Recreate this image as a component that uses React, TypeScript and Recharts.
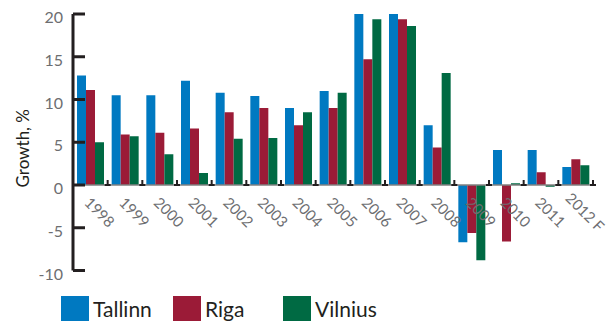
import React from "react";
import {
  ComposedChart,
  Bar,
  Scatter,
  XAxis,
  YAxis,
  ReferenceLine,
  Legend,
} from "recharts";

const years = [
  "1998", "1999", "2000", "2001", "2002", "2003", "2004", "2005",
  "2006", "2007", "2008", "2009", "2010", "2011", "2012 F",
];
const tallinn = [12.8, 10.5, 10.5, 12.2, 10.8, 10.4, 9.0, 11.0, 20.1, 20.1, 7.0, -6.7, 4.1, 4.1, 2.1];
const riga = [11.1, 5.9, 6.1, 6.6, 8.5, 9.0, 7.0, 9.0, 14.7, 19.4, 4.4, -5.6, -6.6, 1.5, 3.0];
const vilnius = [5.0, 5.7, 3.6, 1.4, 5.4, 5.5, 8.5, 10.8, 19.4, 18.6, 13.1, -8.8, 0.2, -0.2, 2.3];
const yTicks = [-10, -5, 0, 5, 10, 15, 20];

const data = years.map((year, i) => ({
  year,
  tallinn: tallinn[i],
  riga: riga[i],
  vilnius: vilnius[i],
  zero: 0,
}));

const BLUE = "#0079c1";
const RED = "#9b1b37";
const GREEN = "#006a43";
const DARK = "#231f20";
const GREY = "#6d6e71";
const FONT = "Lato, 'Noto Sans', sans-serif";
const BAND = 520 / years.length;

const YTick = (props: any) => {
  const { x, y, payload } = props;
  return (
    <g>
      <line x1={x + 10} x2={x + 22} y1={y} y2={y} stroke={DARK} strokeWidth={3} />
      <text x={x} y={y + 2.5} textAnchor="end" dominantBaseline="central" fill={GREY} fontSize={16} fontFamily={FONT}>
        {payload.value}
      </text>
    </g>
  );
};

// draws the year label and the small boundary tick on the zero line
const ZeroMark = (props: any) => {
  const { cx, cy, payload } = props;
  const bx = cx + BAND / 2;
  const lx = cx + 5.5;
  const ly = cy + 31;
  return (
    <g>
      <line x1={bx} x2={bx} y1={cy - 5} y2={cy} stroke={DARK} strokeWidth={2} />
      <line x1={bx - 3} x2={bx + 3} y1={cy} y2={cy} stroke={DARK} strokeWidth={2} />
      <text
        x={lx}
        y={ly}
        transform={`rotate(45, ${lx}, ${ly})`}
        textAnchor="middle"
        fill={GREY}
        fontSize={15}
        fontFamily={FONT}
      >
        {payload.year}
      </text>
    </g>
  );
};

const YLabel = (props: any) => {
  const { viewBox } = props;
  const x = viewBox.x + 14;
  const y = viewBox.y + viewBox.height / 2 + 6;
  return (
    <text x={x} y={y} transform={`rotate(-90, ${x}, ${y})`} textAnchor="middle" dominantBaseline="central" fill={DARK} fontSize={17} fontFamily={FONT}>
      Growth, %
    </text>
  );
};

const legendItems = [
  { name: "Tallinn", color: BLUE, w: 112 },
  { name: "Riga", color: RED, w: 110 },
  { name: "Vilnius", color: GREEN, w: 110 },
];

const LegendContent = () => (
  <div style={{ display: "flex", height: 30, alignItems: "center" }}>
    {legendItems.map((it) => (
      <div key={it.name} style={{ display: "flex", alignItems: "center", width: it.w }}>
        <div style={{ width: 28, height: 25, background: it.color, marginRight: 4 }} />
        <span style={{ fontFamily: FONT, fontSize: 21, color: DARK }}>{it.name}</span>
      </div>
    ))}
  </div>
);

export default function App() {
  return (
    <ComposedChart
      width={600}
      height={315}
      data={data}
      margin={{ top: 6, right: 15, left: 0, bottom: 0 }}
      barGap={0}
    >
      <XAxis dataKey="year" height={22.5} axisLine={false} tickLine={false} tick={false} />
      <YAxis
        width={65}
        domain={[-10, 20]}
        ticks={yTicks}
        allowDataOverflow
        interval={0}
        axisLine={{ stroke: DARK, strokeWidth: 3 }}
        tickLine={false}
        tickSize={0}
        tickMargin={10}
        tick={<YTick />}
        label={<YLabel />}
      />
      <ReferenceLine y={0} stroke="#808080" strokeWidth={1.5} />
      <Bar dataKey="tallinn" fill={BLUE} barSize={9} isAnimationActive={false} />
      <Bar dataKey="riga" fill={RED} barSize={9} isAnimationActive={false} />
      <Bar dataKey="vilnius" fill={GREEN} barSize={9} isAnimationActive={false} />
      <Scatter dataKey="zero" shape={<ZeroMark />} isAnimationActive={false} legendType="none" />
      <Legend
        verticalAlign="bottom"
        align="left"
        height={30}
        wrapperStyle={{ left: 53 }}
        content={<LegendContent />}
      />
    </ComposedChart>
  );
}
